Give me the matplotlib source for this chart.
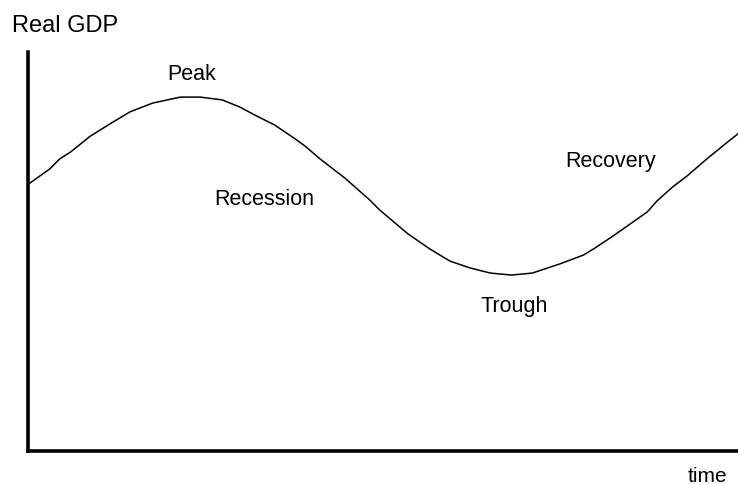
import numpy as np
import matplotlib as mpl
import matplotlib.pyplot as plt

plt.rcParams['font.family'] = ['Liberation Sans', 'DejaVu Sans']

# ---------- data ----------
time = [0, 3.0, 4.4, 5.9, 8.7, 11.5, 14.3, 17.5, 21.4, 24.2, 27.3, 29.8, 31.9,
        34.7, 37.6, 39.0, 41.1, 44.6, 48.1, 49.5, 53.5, 56.6, 59.4, 62.2, 65.1,
        68.1, 71.0, 74.9, 78.2, 79.6, 82.4, 84.4, 87.2, 88.6, 90.8, 92.8, 95.6,
        98.5, 100]
gdp = [66.9, 70.7, 73.2, 74.9, 78.9, 82.0, 85.0, 87.2, 88.7, 88.7, 88.0, 86.2,
       84.2, 81.7, 78.2, 76.4, 73.2, 68.4, 62.9, 60.4, 54.4, 50.6, 47.6, 45.9,
       44.6, 44.1, 44.6, 46.9, 49.1, 50.6, 53.9, 56.4, 59.9, 62.7, 66.2, 68.9,
       73.2, 77.4, 79.5]

phase_labels = ["Peak", "Recession", "Trough", "Recovery"]
phase_x = [23.0, 33.2, 68.4, 82.1]
phase_y = [93.2, 61.9, 35.1, 71.4]

# ---------- plot ----------
fig = plt.figure(figsize=(7.38, 4.85), dpi=100)
ax = fig.add_axes([0.0386, 0.068, 0.9614, 0.8227])
ax.plot(time, gdp, color='black', lw=1.1, solid_joinstyle='round')
ax.set_xlim(0, 100); ax.set_ylim(0, 100)

for s in ['top', 'right']:
    ax.spines[s].set_visible(False)
for s in ['left', 'bottom']:
    ax.spines[s].set_linewidth(2.6)
    ax.spines[s].set_capstyle('projecting')
ax.set_xticks([]); ax.set_yticks([])

for lab, x, y in zip(phase_labels, phase_x, phase_y):
    ax.text(x, y, lab, ha='center', va='baseline', fontsize=15.5)

fig.text(0.0163, 0.935, "Real GDP", ha='left', va='baseline', fontsize=17)
fig.text(0.958, 0.006, "time", ha='center', va='baseline', fontsize=15)

fig.savefig("out.png", dpi=100)
